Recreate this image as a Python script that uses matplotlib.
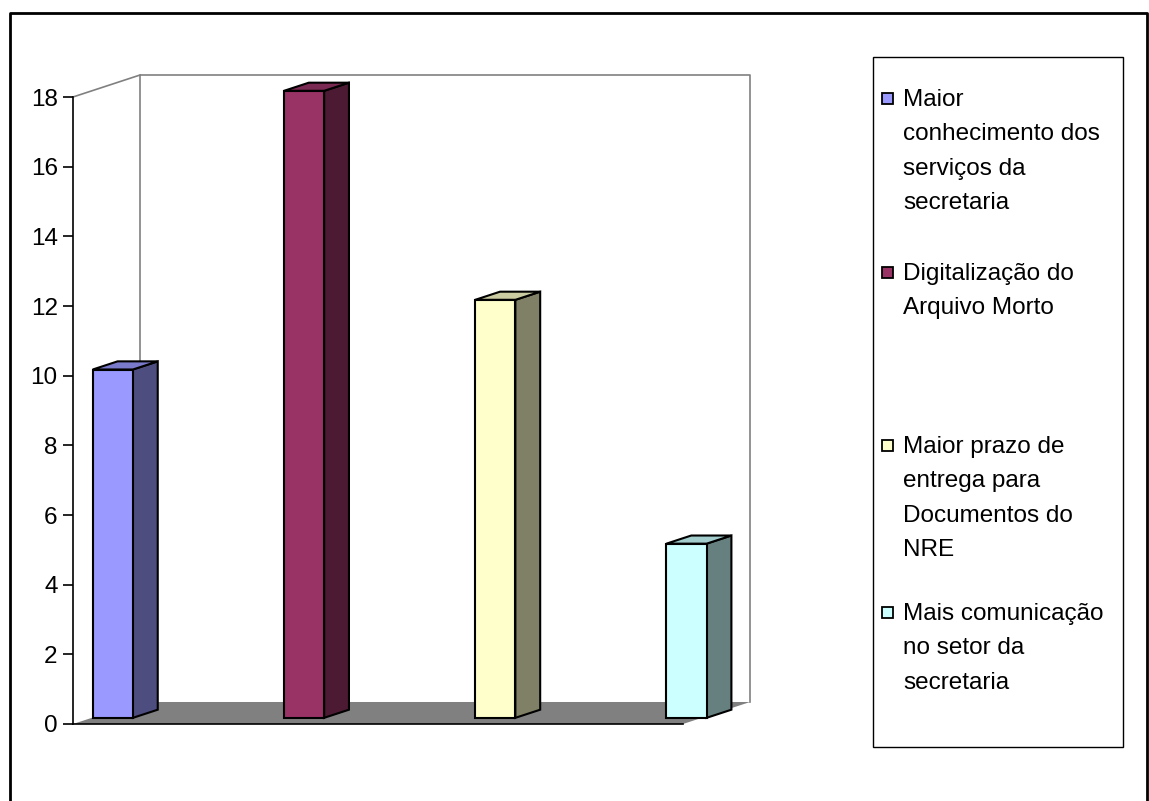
import matplotlib.pyplot as plt
from matplotlib.patches import Polygon, Rectangle

plt.rcParams['font.family'] = ['Liberation Sans', 'DejaVu Sans']

# dados
series = ['Maior\nconhecimento dos\nserviços da\nsecretaria',
          'Digitalização do\nArquivo Morto',
          'Maior prazo de\nentrega para\nDocumentos do\nNRE',
          'Mais comunicação\nno setor da\nsecretaria']
values = [10, 18, 12, 5]
front_cols = ['#9999FF', '#993366', '#FFFFCC', '#CCFFFF']
top_cols = ['#7A7ACC', '#7A2952', '#CCCCA3', '#A3CCCC']
side_cols = ['#4D4D80', '#4D1A33', '#808066', '#668080']
yticks = [0, 2, 4, 6, 8, 10, 12, 14, 16, 18]

W, H = 1149, 801
fig = plt.figure(figsize=(W / 100, H / 100), dpi=100)

# eixo principal (plano frontal)
ax = fig.add_axes([73 / W, (H - 724) / H, 610 / W, 627 / H])
X0, X1 = -0.11, 3.08
ax.set_xlim(X0, X1)
ax.set_ylim(0, 18)
DX, DY = 0.351, 0.632   # deslocamento da profundidade
bw = 0.21
z0, z1 = 0.28, 0.65


def proj(x, y, z):
    return (x + z * DX, y + z * DY)


ymax = yticks[-1]
# parede do fundo e lateral
wall = dict(color='#808080', lw=1.2, clip_on=False, zorder=1)
ax.plot(*zip(proj(X0, 0, 1), proj(X0, ymax, 1), proj(X1, ymax, 1), proj(X1, 0, 1)), **wall)
ax.plot(*zip(proj(X0, ymax, 0), proj(X0, ymax, 1)), **wall)

# piso
floor = [proj(X0, 0, 0), proj(X1, 0, 0), proj(X1, 0, 1), proj(X0, 0, 1)]
ax.add_patch(Polygon(floor, closed=True, fc='#808080', ec='none', clip_on=False, zorder=2))

# barras 3D
for i, v in enumerate(values):
    xl, xr = i - bw / 2, i + bw / 2
    front = [proj(xl, 0, z0), proj(xr, 0, z0), proj(xr, v, z0), proj(xl, v, z0)]
    side = [proj(xr, 0, z0), proj(xr, 0, z1), proj(xr, v, z1), proj(xr, v, z0)]
    top = [proj(xl, v, z0), proj(xr, v, z0), proj(xr, v, z1), proj(xl, v, z1)]
    for pts, c in [(side, side_cols[i]), (top, top_cols[i]), (front, front_cols[i])]:
        ax.add_patch(Polygon(pts, closed=True, fc=c, ec='black', lw=1.5,
                             joinstyle='miter', clip_on=False, zorder=3))

for s in ['top', 'right']:
    ax.spines[s].set_visible(False)
ax.spines['left'].set_linewidth(1.2)
ax.spines['bottom'].set_linewidth(1.2)
ax.spines['left'].set_zorder(4)
ax.spines['bottom'].set_zorder(4)
ax.set_xticks([])
ax.set_yticks(yticks)
ax.tick_params(axis='y', direction='out', length=7, width=1.2, pad=4, labelsize=17.5)
ax.patch.set_visible(False)

# moldura e legenda
ov = fig.add_axes([0, 0, 1, 1], zorder=-1)
ov.set_xlim(0, W)
ov.set_ylim(H, 0)
ov.axis('off')
ov.plot([10, 10, 1147, 1147], [H + 5, 13, 13, H + 5], color='black', lw=2)

leg = fig.add_axes([0, 0, 1, 1])
leg.set_xlim(0, W)
leg.set_ylim(H, 0)
leg.axis('off')
leg.add_patch(Rectangle((873, 57), 250, 690, fc='white', ec='black', lw=1))
entry_y = [98, 272, 445, 612]
for lab, c, y in zip(series, front_cols, entry_y):
    leg.add_patch(Rectangle((882, y - 5.5), 11, 11, fc=c, ec='black', lw=1.3))
    leg.text(903, y - 9, lab, fontsize=17.5, va='top', ha='left', linespacing=1.73)

fig.savefig('out.png', dpi=100)
